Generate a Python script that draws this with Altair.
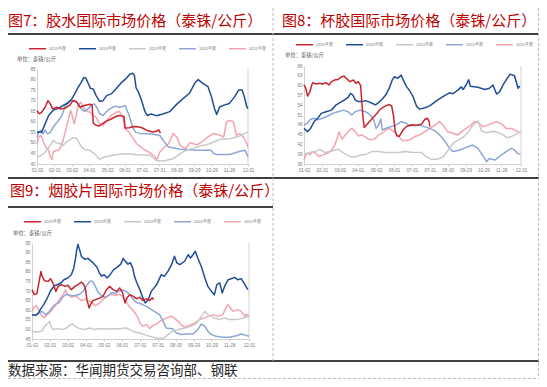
import json
import pandas as pd
import altair as alt

# ---------------- data ----------------
SERIES = ["2025年度", "2024年度", "2023年度", "2022年度", "2021年度"]
COLORS = ["#C8252C", "#1F4E96", "#C9C9C9", "#8EA6D6", "#F4A4AE"]
WIDTHS = [1.5, 1.5, 1.1, 1.1, 1.1]

TICK_DAYS = [0, 30, 60, 90, 121, 151, 181, 211, 241, 271, 301, 331, 364]
TICK_LABELS = ["01-02", "02-01", "03-02", "04-01", "05-02", "06-01", "07-01",
               "07-31", "08-30", "09-29", "10-29", "11-28", "12-31"]

TITLE7 = "图7：胶水国际市场价格（泰铢/公斤）"
TITLE8 = "图8：杯胶国际市场价格（泰铢/公斤）"
TITLE9 = "图9：烟胶片国际市场价格（泰铢/公斤）"
UNIT = "单位：泰铢/公斤"
SOURCE = "数据来源：华闻期货交易咨询部、钢联"

P7_YTICKS = [40, 45, 50, 55, 60, 65, 70, 75, 80, 85]
P8_YTICKS = [36, 39, 42, 45, 48, 51, 54, 57, 60, 63, 66]
P9_YTICKS = [45, 50, 55, 60, 65, 70, 75, 80, 85, 90, 95]

# 胶水 (latex)
P7_2025 = [(0,65.3),(4,63.8),(8,64.5),(14,66.9),(19,70),(23,68.5),(27,66.1),(34,66.9),(40,66.1),
           (48,66.4),(57,68),(62,70),(68,69.5),(74,66.9),(82,67.7),(91,68.3),(95,68),(97,59.5),
           (101,58.5),(107,58),(114,59.3),(120,60.3),(128,61.3),(136,62.5),(142,63),(146,62.8),
           (150,62.5),(152,57),(159,57.2),(165,57.6),(170,57.8),(180,57.3),(190,55.9),(200,55.2),
           (207,55.6),(210,56.2),(213,54.6)]
P7_2024 = [(0,55.1),(8,55),(14,59),(20,63),(28,65.5),(37,66.4),(45,67.7),(54,69),(60,70.8),(65,73.2),
           (71,76.3),(77,79),(81,81),(84,80.8),(88,78.4),(92,75.9),(97,75.5),(102,72.4),(108,69.7),
           (114,70),(120,72.4),(128,73.2),(136,75.5),(145,78.4),(153,80.3),(160,82.5),(165,83),
           (168,82),(171,76),(175,74),(180,70.5),(186,65),(190,63),(197,63.7),(206,62.9),(217,63.7),
           (229,64.8),(240,68),(252,71),(263,73.5),(272,78.2),(278,80),(286,78.2),(295,76.6),
           (301,71.9),(306,66.4),(310,63.5),(315,67),(324,68),(332,68.7),(341,71.9),(348,75),
           (354,75),(358,71.5),(362,67),(364,66.2)]
P7_2023 = [(0,43.3),(6,43.8),(14,45.7),(23,48.8),(28,51.2),(34,50),(40,49.6),(45,48.8),(51,50.4),
           (57,51.6),(62,52.3),(68,52.3),(72,50.4),(77,48),(82,46.9),(91,46.4),(99,44.9),(108,42.2),
           (116,43.3),(125,43.8),(136,44.4),(148,44.7),(162,44.7),(173,44.4),(185,44.3),(195,44.1),
           (206,41.7),(218,41.4),(235,42.5),(253,46),(275,48),(298,49.6),(316,51.7),(333,52),
           (350,53.3),(364,55.2)]
P7_2022 = [(0,52.7),(3,55),(7,56),(10,54.3),(14,56),(18,54.3),(23,55),(28,57.5),(37,60.6),(43,63),
           (48,66.9),(54,69.6),(60,70.1),(65,70.1),(71,68.5),(77,66.1),(82,64.9),(88,66.1),(94,68),
           (99,68.5),(103,66.9),(108,63.8),(114,63),(119,64.5),(125,66.1),(131,66.9),(136,67.4),
           (142,66.9),(148,67.2),(152,67.7),(159,63),(165,57.5),(170,55.1),(177,54.5),(195,54.3),
           (212,53.5),(218,51),(227,48),(247,47),(275,46.5),(300,46.5),(305,45),(310,44.5),
           (333,44.5),(350,46),(359,46.5),(364,43.3)]
P7_2021 = [(0,49.6),(3,52.7),(6,53.5),(9,52.3),(11,50.4),(14,48.5),(20,46.4),(23,43.3),(26,42.2),
           (28,45.7),(33,46.4),(37,46.4),(41,48),(45,51.2),(51,57.5),(55,62.2),(58,65.3),(61,62.7),
           (64,59),(67,62.2),(71,67.7),(75,69.3),(80,66.9),(85,65.3),(91,64.5),(97,63),(102,62.2),
           (108,59),(114,58.2),(120,60.6),(128,63),(136,64.5),(142,64.9),(148,62.2),(152,56.7),
           (159,55.1),(165,52.5),(172,49.6),(183,47.2),(195,45.4),(204,43.3),(206,41.7),(212,45.7),
           (218,47.5),(227,49.6),(235,54.4),(241,52.8),(247,48.8),(256,47.2),(264,50.1),(276,49.1),
           (284,50.4),(295,52.8),(304,54.4),(313,53.9),(322,52.8),(327,59.9),(333,60.7),(339,59.9),
           (344,53.6),(350,54.4),(356,52.8),(362,49.6),(364,48)]

# 杯胶 (cup lump)
P8_2025 = [(0,60.2),(3,59.2),(6,56.8),(10,58.1),(13,60.2),(15,60.9),(20,60.5),(26,60.7),(31,60.5),
           (37,60.9),(42,60.2),(46,61.2),(51,61.7),(57,61.9),(63,62.7),(67,62.9),(71,62.2),(77,61.2),
           (83,61.7),(87,60.7),(91,61.2),(95,60),(97,55),(99,50),(101,47.2),(104,47.8),(110,49),
           (120,51),(128,52.8),(137,53.8),(143,54.2),(147,53.8),(150,51),(153,46),(156,44.6),
           (160,44.5),(166,46.4),(172,47.5),(180,48),(189,47.9),(197,48.2),(203,49.7),(207,50),
           (210,49),(211,47.5)]
P8_2024 = [(0,46.9),(6,45.9),(11,46.9),(17,49),(23,50),(29,51.5),(37,52),(46,52.5),(54,54.1),(63,55.1),
           (68,55.6),(74,56.4),(78,57.6),(82,57.1),(86,55.6),(91,55.1),(97,55.1),(103,55.4),(108,55.1),
           (114,54.6),(120,54.1),(125,54.8),(131,55.8),(137,57.1),(143,59.2),(148,61.7),(152,62.7),
           (157,62.2),(163,63.2),(167,61.5),(172,59.7),(177,58.5),(183,56.6),(189,53.6),(194,52.8),
           (203,53.2),(211,53.8),(222,55.3),(233,56.6),(244,57.8),(250,57.5),(258,58.6),(264,59.6),
           (267,58.8),(272,60.2),(276,61.8),(279,59.8),(292,59.5),(303,58.8),(311,59.2),(317,60.2),
           (323,57.4),(328,58.1),(334,60.2),(340,62),(346,63.5),(353,63),(357,60.5),(359,59.2),
           (362,59.9)]
P8_2023 = [(0,39),(10,39.5),(18,39.8),(27,40.5),(35,39.5),(44,39.8),(52,40.3),(58,40.5),(63,39.8),
           (72,38.8),(80,38.1),(88,38.3),(97,38.8),(105,39),(113,39.8),(125,39.8),(136,39.5),
           (147,39.5),(158,39.5),(169,39.8),(181,39.6),(197,39.5),(203,38.5),(214,37.4),(225,37.5),
           (234,38.3),(242,40.3),(250,42.3),(259,43.4),(267,44.2),(276,45.9),(281,47.3),(287,48.4),
           (292,49.2),(298,46),(306,45.6),(318,46),(326,45.6),(334,45),(340,44),(348,44.4),
           (357,45.3),(364,45.8)]
P8_2022 = [(0,47.9),(6,48.5),(11,49.7),(17,50),(23,49.5),(31,50),(40,50.7),(48,51.5),(57,52),(66,52.5),
           (74,52),(80,51),(86,52),(94,52.5),(103,52),(111,51),(117,49.5),(121,46.9),(125,47.9),
           (129,49.8),(131,46.4),(137,46.9),(145,47.4),(154,47.9),(163,49),(171,48.5),(178,47.7),
           (194,47.9),(211,46.9),(222,45.9),(230,44.4),(239,42.3),(244,40.8),(250,39.8),(261,40.3),
           (272,41.1),(283,41.8),(292,40.8),(297,39.3),(303,37.7),(306,36.7),(311,37.7),(320,37.2),
           (328,38.3),(339,39.8),(348,40.8),(353,40.3),(359,39.1),(363,39)]
P8_2021 = [(0,37.2),(3,38.8),(6,39.3),(10,38.8),(14,39.8),(20,39.3),(25,38.3),(31,38.8),(40,39.3),
           (46,40.3),(51,41.5),(55,43.6),(59,45.9),(61,44.9),(64,43.6),(68,44.6),(74,45.9),(80,46.9),
           (86,45.9),(91,44.6),(97,44.9),(103,44.2),(108,43.6),(114,43.4),(120,43.9),(125,44.9),
           (131,45.4),(137,46.4),(143,46.9),(148,46.2),(154,45.4),(160,44.2),(165,43.2),(172,43.2),
           (177,43.4),(186,44.4),(194,44.9),(203,45.9),(211,46.9),(220,47.9),(227,49),(233,47.9),
           (241,45.9),(250,45.4),(258,44.9),(264,45.9),(272,46.9),(280,47.9),(286,49),(293,48.5),
           (300,47.4),(308,47.9),(317,48.5),(322,49),(328,48.5),(334,47.9),(339,46.9),(348,46.9),
           (353,46.4),(359,45.9),(363,45.6)]

# 烟胶片 (ribbed smoked sheet)
P9_2025 = [(0,70.7),(4,68.1),(8,68.5),(12,75),(15,80.2),(17,77.6),(21,75.4),(27,75),(31,76.4),(35,74.2),
           (40,69.8),(44,72.4),(49,73.3),(55,72.4),(60,73),(66,70.7),(72,72.4),(77,73.3),(83,74.7),
           (87,73.3),(90,70.7),(92,65.5),(96,61.1),(98,62.9),(102,65),(111,66),(119,67.2),(125,70.7),
           (130,72.4),(136,70.7),(142,69.8),(147,71.6),(152,69),(156,63.8),(159,66.4),(164,68.1),
           (170,67.2),(175,66),(181,66.7),(186,65),(192,66),(197,65),(202,66.4),(204,65.5)]
P9_2024 = [(0,57.6),(6,57.3),(10,58.1),(14,60.3),(20,63.2),(26,66.6),(31,70),(37,72.6),(43,73.4),
           (49,74.3),(54,76),(60,76.8),(66,78.5),(70,81.9),(73,87),(75,91.3),(77,94.3),(80,91.3),
           (83,87.9),(89,86.5),(94,87),(98,85.8),(103,84.5),(109,82.4),(113,79.4),(117,77.7),
           (121,78.5),(126,76.8),(131,78.5),(137,81.1),(143,82.4),(149,84),(153,87),(157,85.3),
           (161,84),(165,84.8),(169,81.9),(172,77.5),(176,74.2),(181,70.7),(186,66.4),(190,63.8),
           (195,65.5),(200,69.8),(209,73.3),(217,78.5),(222,77.6),(228,80.2),(234,83.7),(239,88.1),
           (243,84.6),(248,83.7),(256,85.5),(262,88.9),(266,87.2),(270,88.9),(274,90.7),(278,87.2),
           (284,82.8),(290,76.8),(295,72.4),(301,69.8),(306,68.1),(310,73.3),(315,74.2),(319,69),
           (323,72.4),(329,75.9),(334,76.4),(340,77.1),(345,75.9),(351,76.4),(357,73.3),(362,70.7)]
P9_2023 = [(0,49),(7,48.6),(16,49),(21,51.6),(27,53.3),(30,54.2),(32,51.6),(35,49.9),(44,50.4),
           (52,49.9),(58,50.7),(63,52.1),(68,52.8),(72,51.6),(80,50.4),(88,49.9),(97,50.7),(105,49.9),
           (113,50.4),(125,50.2),(136,50.4),(147,50.4),(158,50.7),(164,49.9),(172,48.6),(181,48.1),
           (192,46.9),(203,45.9),(214,45.2),(222,45.5),(228,47.3),(236,49),(245,49.9),(256,50.7),
           (267,51.6),(276,53.3),(284,56.8),(290,59.4),(295,57.7),(301,56.8),(306,55.9),(315,55.1),
           (323,55.9),(331,55.1),(343,55.1),(354,55.9),(364,56.8)]
P9_2022 = [(0,57.3),(6,57.6),(11,58.6),(17,59.3),(23,57.6),(29,59.3),(34,61.5),(40,63.2),(46,64.1),
           (51,66.6),(57,68.3),(63,67.8),(69,67.5),(74,67.8),(80,68.3),(86,70),(91,72.6),(97,75.1),
           (101,75.1),(106,72.6),(111,69.2),(117,67.5),(123,66.6),(129,67.8),(134,69.2),(140,68.8),
           (146,70),(151,70.5),(157,70),(163,68.5),(169,66),(175,64),(181,63.5),(192,62),(203,59.8),
           (214,57.7),(220,54.2),(225,50.7),(236,50.4),(242,48.1),(250,47.3),(259,47.6),(270,47.6),
           (278,49.9),(284,52.8),(290,51.6),(295,49),(301,47.3),(309,46.4),(320,45.9),(331,45.9),
           (343,46.7),(351,47.6),(359,46.9),(364,46.4)]
P9_2021 = [(0,59),(3,61.5),(7,62.4),(11,60.3),(16,57.3),(20,56),(24,57.3),(29,58.6),(34,60.3),(40,62.7),
           (46,65.8),(51,67.5),(56,70.5),(60,68.3),(66,66.6),(71,67.5),(77,66.6),(83,64.9),(89,65.8),
           (94,64.9),(100,64.1),(106,62.4),(111,63.2),(117,64.9),(123,66.6),(129,67.8),(134,68.3),
           (140,67.8),(146,68.3),(151,67.5),(157,64.9),(163,62),(169,60),(174,58),(178,56),(181,53.3),
           (186,51.6),(192,52.5),(197,50.4),(203,52.1),(209,52.8),(214,54.2),(220,55.1),(228,56.3),
           (234,56.8),(239,55.9),(245,54.2),(250,52.5),(256,51.1),(264,52.1),(273,53.3),(281,55.1),
           (288,55.9),(295,56.8),(304,57.7),(312,56.8),(320,57.7),(328,62.9),(333,61.1),(337,59.4),
           (345,60.3),(351,59.4),(357,56.8),(359,58),(364,56.8)]


def frame(by_series):
    rows = []
    # drawn oldest first so 2024/2025 sit on top
    for name in reversed(SERIES):
        for d, v in by_series[name]:
            rows.append({"series": name, "day": d, "value": v})
    return pd.DataFrame(rows)


DF7 = frame({"2025年度": P7_2025, "2024年度": P7_2024, "2023年度": P7_2023,
             "2022年度": P7_2022, "2021年度": P7_2021})
DF8 = frame({"2025年度": P8_2025, "2024年度": P8_2024, "2023年度": P8_2023,
             "2022年度": P8_2022, "2021年度": P8_2021})
DF9 = frame({"2025年度": P9_2025, "2024年度": P9_2024, "2023年度": P9_2023,
             "2022年度": P9_2022, "2021年度": P9_2021})

# ---------------- styling / layout ----------------
W, H = 531, 371
CJK = "Noto Sans CJK SC"
LATIN = "Liberation Sans"
LABEL_EXPR = "%s[indexof(%s, datum.value)]" % (json.dumps(TICK_LABELS), json.dumps(TICK_DAYS))
AXIS_GRAY = "#d0d0d0"
LABEL_GRAY = "#7a7a7a"
ONE = pd.DataFrame({"k": [0]})


def panel(df, xr, yr, ydom, yticks, xoff, yoff, lx, ly):
    return alt.Chart(df).mark_line(strokeJoin="round").encode(
        x=alt.X("day:Q",
                scale=alt.Scale(domain=[0, 364], range=xr, nice=False, zero=False),
                axis=alt.Axis(orient="bottom", offset=xoff, values=TICK_DAYS, labelExpr=LABEL_EXPR,
                              title=None, grid=False, labelFlush=False, labelOverlap=False,
                              labelFontSize=4.6, labelFont=LATIN, labelColor=LABEL_GRAY,
                              labelPadding=1.5, domainColor=AXIS_GRAY, tickColor=AXIS_GRAY,
                              tickSize=2)),
        y=alt.Y("value:Q",
                scale=alt.Scale(domain=ydom, range=yr, nice=False, zero=False),
                axis=alt.Axis(orient="left", offset=yoff, values=yticks, title=None, grid=False,
                              labelOverlap=False, labelFontSize=4.6, labelFont=LATIN,
                              labelColor=LABEL_GRAY, labelPadding=2, domainColor=AXIS_GRAY,
                              ticks=False)),
        color=alt.Color("series:N",
                        scale=alt.Scale(domain=SERIES, range=COLORS),
                        legend=alt.Legend(orient="none", legendX=lx, legendY=ly,
                                          direction="horizontal", title=None, symbolType="stroke",
                                          symbolSize=289, symbolStrokeWidth=2.5,
                                          labelFontSize=4, labelFont=CJK, labelColor=LABEL_GRAY,
                                          labelOffset=2, columnPadding=10, padding=0)),
        strokeWidth=alt.StrokeWidth("series:N",
                                    scale=alt.Scale(domain=SERIES, range=WIDTHS), legend=None),
    )


def hline(x1, x2, y, color, width, dash=None):
    kw = dict(color=color, strokeWidth=width)
    if dash:
        kw["strokeDash"] = dash
    return alt.Chart(ONE).mark_rule(**kw).encode(
        x=alt.value(x1), x2=alt.value(x2), y=alt.value(y))


def vline(x, y1, y2, color, width, dash=None):
    kw = dict(color=color, strokeWidth=width)
    if dash:
        kw["strokeDash"] = dash
    return alt.Chart(ONE).mark_rule(**kw).encode(
        x=alt.value(x), y=alt.value(y1), y2=alt.value(y2))


def label(txt, x, y, size, color):
    return alt.Chart(ONE).mark_text(align="left", baseline="middle", font=CJK,
                                    fontSize=size, color=color).encode(
        x=alt.value(x), y=alt.value(y), text=alt.value(txt))


TITLE_RED = "#C00000"
TITLE_SIZE = 15
DASH = [3, 2]
decor = [
    hline(0, W, 26, "black", 1.5),
    hline(0, W, 170, "black", 1.5),
    hline(0, 265, 199, "black", 1.5),
    hline(0, W, 353, "black", 1.5),
    vline(265, 0, 353, "#bdbdbd", 1, DASH),
    vline(W - 0.5, 0, H, "#bdbdbd", 1, DASH),
    hline(0, W, H - 0.5, "#bdbdbd", 1, DASH),
    vline(240, 61, 156, AXIS_GRAY, 1),
    vline(513, 58, 156, AXIS_GRAY, 1),
    vline(241, 235, 331, AXIS_GRAY, 1),
    label(TITLE7, 0, 13, TITLE_SIZE, TITLE_RED),
    label(TITLE8, 274, 13, TITLE_SIZE, TITLE_RED),
    label(TITLE9, 2, 183, TITLE_SIZE, TITLE_RED),
    label(UNIT, 9, 51, 5.3, "#595959"),
    label(UNIT, 277, 47, 5.3, "#595959"),
    label(UNIT, 5, 225, 5.3, "#595959"),
    label(SOURCE, 0, 363, 13.5, "#262626"),
]

p7 = panel(DF7, [29, 240], [156, 61], [40, 85], P7_YTICKS, 156 - H, -29, 20, 31)
p8 = panel(DF8, [296, 513], [156, 58], [36, 66], P8_YTICKS, 156 - H, -296, 287, 27)
p9 = panel(DF9, [24, 241], [331, 235], [45, 95], P9_YTICKS, 331 - H, -24, 15, 204)

chart = alt.layer(*decor, p7, p8, p9).resolve_scale(
    x="independent", y="independent", color="independent", strokeWidth="independent"
).properties(
    width=W, height=H, padding=0, autosize=alt.AutoSizeParams(type="none")
).configure_view(stroke=None)

chart.save("out.html", embed_options={"renderer": "svg", "actions": False})
